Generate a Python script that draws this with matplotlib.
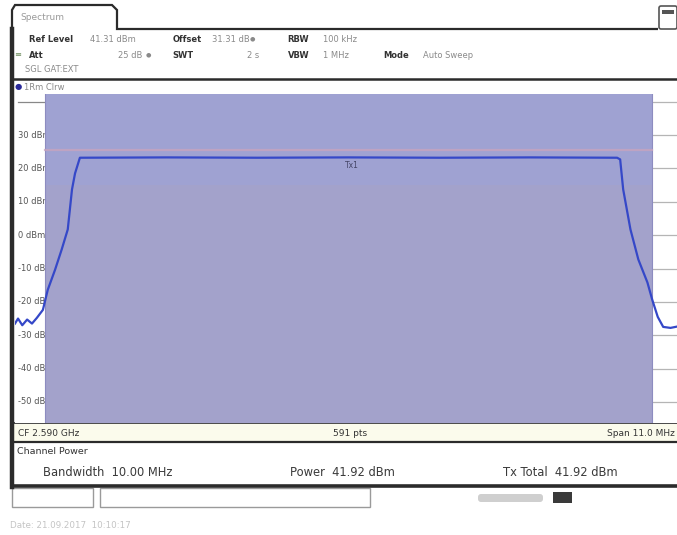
import numpy as np
import matplotlib.pyplot as plt
from matplotlib.patches import Rectangle, FancyBboxPatch
from matplotlib.path import Path
from matplotlib.patches import PathPatch

# channel power measurement, frequency offset from CF in MHz
freq_mhz = [-5.5, -5.45, -5.38, -5.3, -5.22, -5.14, -5.04, -4.96, -4.84, -4.73,
            -4.63, -4.56, -4.51, -4.43, -3.0, -1.5, 0.0, 1.5, 3.0, 4.43,
            4.48, 4.53, 4.65, 4.78, 4.93, 5.01, 5.10, 5.19, 5.31, 5.42, 5.5]
level_dbm = [-26.5, -25.0, -27.0, -25.3, -26.5, -24.8, -22.4, -16.4, -10.4, -4.3,
             1.7, 13.7, 18.5, 23.2, 23.3, 23.2, 23.3, 23.2, 23.3, 23.2,
             22.7, 13.7, 1.7, -7.3, -14.2, -19.4, -24.5, -27.5, -27.8, -27.4, -27.0]
ytick_vals = [30, 20, 10, 0, -10, -20, -30, -40, -50]
grid_vals = [40, 30, 20, 10, 0, -10, -20, -30, -40, -50]
span_mhz = 11.0
chan_bw_mhz = 10.0
limit_dbm = 25.5

hdr_row1 = [("Ref Level", True, 29), ("41.31 dBm", False, 90), ("Offset", True, 173),
            ("31.31 dB", False, 212), ("\u25cf", False, 250), ("RBW", True, 287),
            ("100 kHz", False, 323)]
hdr_row2 = [("Att", True, 29), ("25 dB", False, 118), ("\u25cf", False, 146),
            ("SWT", True, 172), ("2 s", False, 247), ("VBW", True, 288),
            ("1 MHz", False, 323), ("Mode", True, 383), ("Auto Sweep", False, 423)]

fig = plt.figure(figsize=(6.77, 5.35), dpi=100)
fig.patch.set_facecolor('white')

# screen furniture in pixel coordinates
bg = fig.add_axes([0, 0, 1, 1])
bg.set_xlim(0, 677)
bg.set_ylim(535, 0)
bg.axis('off')

dark = '#2b2b2b'
tab = Path([(12, 487), (12, 10), (15, 5), (112, 5), (117, 10), (117, 29), (658, 29)],
           [Path.MOVETO] + [Path.LINETO] * 6)
bg.add_patch(PathPatch(tab, fill=False, ec=dark, lw=1.6))
bg.plot([12, 12], [29, 487], color=dark, lw=3.2)
bg.text(20, 18, "Spectrum", fontsize=6.5, color='#9a9a9a', va='center')
bg.add_patch(FancyBboxPatch((659, 6), 18, 23, boxstyle='round,pad=0,rounding_size=2',
                            ec='#555555', fc='white', lw=1.2))
bg.add_patch(Rectangle((662, 10), 12, 4, fc='#555555', ec='none'))

for label, bold, x in hdr_row1 + hdr_row2:
    y = 39 if (label, bold, x) in hdr_row1 else 55
    size = 4.5 if label == "\u25cf" else 6.0
    bg.text(x, y, label, fontsize=size, fontweight='bold' if bold else 'normal',
            color='#333333' if bold else '#8a8a8a', va='center')
bg.text(14, 55, "\u2261", fontsize=6, color='#6a8a5a', va='center')
bg.text(25, 70, "SGL GAT:EXT", fontsize=6, color='#8a8a8a', va='center')

bg.plot([14, 677], [79, 79], color=dark, lw=1.8)
bg.text(15, 87, "\u25cf", fontsize=6, color='#2a2a9a', va='center')
bg.text(24, 87, "1Rm Clrw", fontsize=6, color='#8a8a8a', va='center')

# status rows under the diagram
bg.add_patch(Rectangle((14, 424), 663, 18, fc='#fbfbec', ec='none'))
bg.plot([14, 677], [423, 423], color=dark, lw=1.2)
bg.plot([14, 677], [442, 442], color=dark, lw=1.6)
bg.text(18, 433, "CF 2.590 GHz", fontsize=6.5, color='#333333', va='center')
bg.text(350, 433, "591 pts", fontsize=6.5, color='#333333', va='center', ha='center')
bg.text(675, 433, "Span 11.0 MHz", fontsize=6.5, color='#333333', va='center', ha='right')
bg.text(17, 452, "Channel Power", fontsize=6.8, color='#333333', va='center')
bg.text(43, 473, "Bandwidth  10.00 MHz", fontsize=8.3, color='#3a3a3a', va='center')
bg.text(290, 473, "Power  41.92 dBm", fontsize=8.3, color='#3a3a3a', va='center')
bg.text(503, 473, "Tx Total  41.92 dBm", fontsize=8.3, color='#3a3a3a', va='center')
bg.plot([12, 677], [486, 486], color=dark, lw=2.6)

bg.add_patch(Rectangle((12, 488), 81, 19, fc='white', ec='#9a9a9a', lw=1.0))
bg.add_patch(Rectangle((100, 488), 270, 19, fc='white', ec='#9a9a9a', lw=1.0))
bg.add_patch(FancyBboxPatch((478, 494), 65, 8, boxstyle='round,pad=0,rounding_size=3',
                            fc='#cfcfcf', ec='none'))
bg.add_patch(Rectangle((553, 492), 19, 11, fc='#3a3a3a', ec='none'))
bg.text(10, 526, "Date: 21.09.2017  10:10:17", fontsize=6.3, color='#c4c4c4', va='center')

# spectrum diagram
ax = fig.add_axes([15 / 677, (535 - 423) / 535, 667 / 677, 329 / 535])
ax.set_xlim(-span_mhz / 2, span_mhz / 2)
ax.set_ylim(-56.3, 42.3)
ax.set_facecolor('white')
for s in ax.spines.values():
    s.set_visible(False)
ax.set_xticks([])
ax.set_yticks([])

lo, hi = -chan_bw_mhz / 2, chan_bw_mhz / 2
ax.hlines(grid_vals, lo, span_mhz / 2, color='#b5b5b5', lw=0.9, zorder=0.2)
ax.plot([-span_mhz / 2 + 0.05, lo], [grid_vals[0], grid_vals[0]], color='#888888', lw=0.9,
        zorder=0.2)
for v in ytick_vals:
    lab = "0 dBm" if v == 0 else f"{v} dBm"
    ax.text(0.005, v, lab, transform=ax.get_yaxis_transform(), fontsize=6,
            color='#555555', va='center', ha='left', zorder=0.5)

ax.axvspan(lo, hi, color='#a3a2cb', lw=0, zorder=1)
ax.axvspan(lo, hi, ymin=(15 - (-56.3)) / (42.3 + 56.3), ymax=1, color='#9da2d8',
           alpha=0.55, lw=0, zorder=1.1)
ax.axvline(lo, color='#8d8cc0', lw=0.8, zorder=1.2)
ax.axvline(hi, color='#8d8cc0', lw=0.8, zorder=1.2)
ax.plot([lo, hi], [limit_dbm, limit_dbm], color='#c7a4bf', lw=1.6, alpha=0.8, zorder=1.5)

ax.plot(freq_mhz, level_dbm, color='#3548c8', lw=1.6, zorder=3)
ax.text(0.05, 20.8, "Tx1", fontsize=5.5, color='#444466', ha='center', va='center', zorder=4)

fig.savefig('out.png', dpi=100)
